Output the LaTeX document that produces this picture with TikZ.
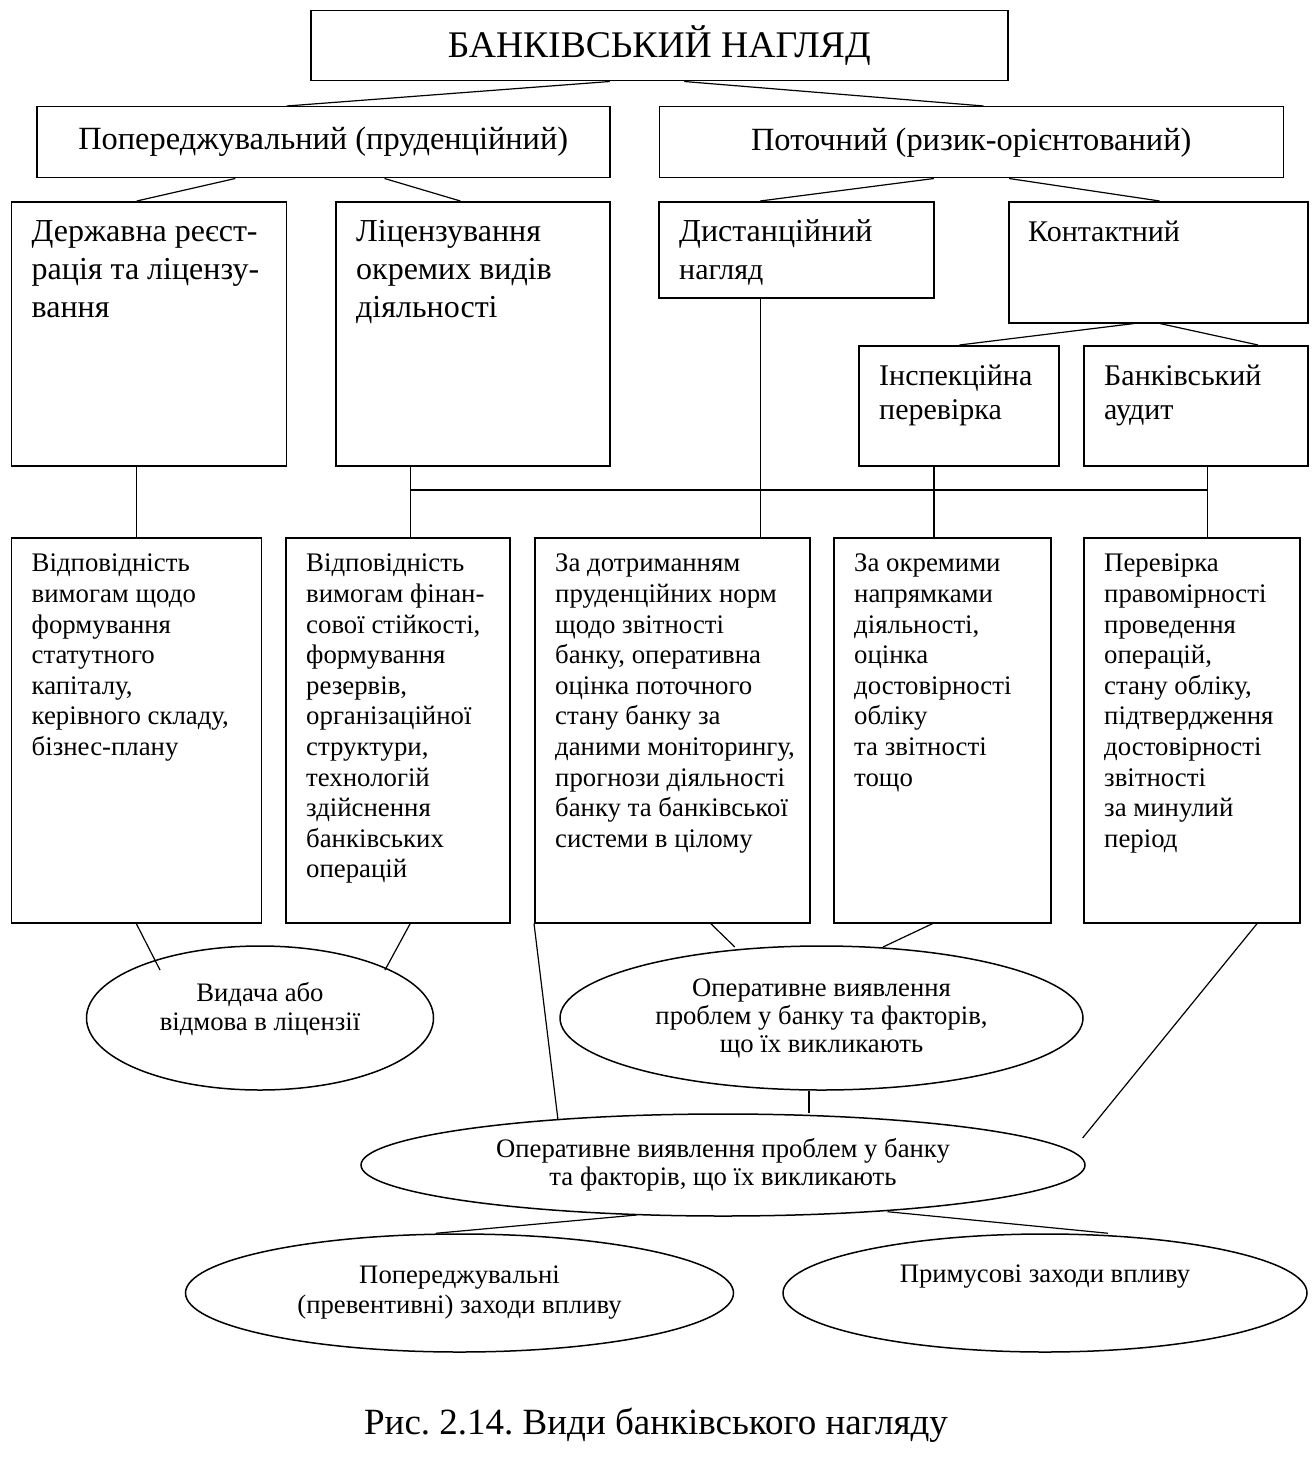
\documentclass[tikz,border=0pt]{standalone}
\usepackage{fontspec}
\setmainfont{Liberation Serif}
\usetikzlibrary{shapes.geometric,positioning}
\frenchspacing

\newcommand{\fsz}[2]{\fontsize{#1}{#2}\selectfont}

\begin{document}
\begin{tikzpicture}
  [x=1pt,y=-1pt,
   box/.style={draw,rectangle,line width=1.5pt,anchor=north west,inner sep=0pt},
   txt/.style={anchor=north west,inner sep=0pt,align=left},
   big/.style={txt,font=\fsz{32}{38}},
   mid/.style={txt,font=\fsz{30}{34}},
   small/.style={txt,font=\fsz{26.8}{30.6}},
   oval/.style={draw,ellipse,line width=1.5pt,inner sep=0pt,align=center,font=\fsz{26.7}{28}},
   ovaltext/.style={align=center,inner sep=0pt,font=\fsz{26.7}{29}},
   link/.style={line width=1.2pt}]
  \useasboundingbox (0,0) rectangle (1315,1474);

  % top levels
  \node[box,minimum width=697pt,minimum height=70pt,font=\fsz{37.6}{42}] (bank) at (310,10) {БАНКІВСЬКИЙ НАГЛЯД};
  \node[box,minimum width=573pt,minimum height=71pt,font=\fsz{32.4}{38}] (prud) at (36,106) {Попереджувальний (пруденційний)};
  \node[box,minimum width=624pt,minimum height=71pt,font=\fsz{32.4}{38}] (risk) at (658.5,106) {Поточний (ризик-орієнтований)};

  \node[box,minimum width=275pt,minimum height=264pt] (reg) at (10.5,201) {};
  \node[box,minimum width=274pt,minimum height=264pt] (lic) at (335,201) {};
  \node[box,minimum width=275pt,minimum height=96pt] (dist) at (658,201) {};
  \node[box,minimum width=299pt,minimum height=121pt] (cont) at (1008,201) {};
  \node[box,minimum width=200pt,minimum height=120pt] (insp) at (858,345) {};
  \node[box,minimum width=224pt,minimum height=120pt] (aud) at (1083,345) {};

  \node[big] (regT) at ([shift={(21,19)}]reg.north west) {Державна реєст-\\рація та ліцензу-\\вання};
  \node[big] (licT) at ([shift={(21,19)}]lic.north west) {Ліцензування\\окремих видів\\діяльності};
  \node[big] (distT) at ([shift={(21,18)}]dist.north west) {Дистанційний\\{\fsz{30}{34}нагляд}};
  \node[mid] (contT) at ([shift={(20,20)}]cont.north west) {Контактний};
  \node[mid] (inspT) at ([shift={(21,20)}]insp.north west) {Інспекційна\\перевірка};
  \node[mid] (audT) at ([shift={(21,20)}]aud.north west) {Банківський\\аудит};

  % requirements
  \node[box,minimum width=250pt,minimum height=385pt] (req1) at (10.5,537) {};
  \node[box,minimum width=224pt,minimum height=385pt] (req2) at (285,537) {};
  \node[box,minimum width=275pt,minimum height=385pt] (mon) at (534,537) {};
  \node[box,minimum width=217pt,minimum height=385pt] (dir) at (833,537) {};
  \node[box,minimum width=216pt,minimum height=385pt] (past) at (1083,537) {};

  \node[small] (req1T) at ([shift={(21,17)}]req1.north west) {Відповідність\\вимогам щодо\\формування\\статутного\\капіталу,\\керівного складу,\\бізнес-плану};
  \node[small] (req2T) at ([shift={(21,17)}]req2.north west) {Відповідність\\вимогам фінан-\\сової стійкості,\\формування\\резервів,\\організаційної\\структури,\\технологій\\здійснення\\банківських\\операцій};
  \node[small] (monT) at ([shift={(21,17)}]mon.north west) {За дотриманням\\пруденційних норм\\щодо звітності\\банку, оперативна\\оцінка поточного\\стану банку за\\даними моніторингу,\\прогнози діяльності\\банку та банківської\\системи в цілому};
  \node[small] (dirT) at ([shift={(21,17)}]dir.north west) {За окремими\\напрямками\\діяльності,\\оцінка\\достовірності\\обліку\\та звітності\\тощо};
  \node[small] (pastT) at ([shift={(21,17)}]past.north west) {Перевірка\\правомірності\\проведення\\операцій,\\стану обліку,\\підтвердження\\достовірності\\звітності\\за минулий\\період};

  % results
  \node[oval,minimum width=347pt,minimum height=144pt] (iss) at (260,1018) {};
  \node[ovaltext] (issT) at ([yshift=9pt]iss.center) {Видача або\\відмова в ліцензії};
  \node[oval,minimum width=523pt,minimum height=144pt] (ops) at (821.5,1018) {Оперативне виявлення\\проблем у банку та факторів,\\що їх викликають};
  \node[oval,minimum width=724pt,minimum height=102pt] (opw) at (723,1165) {Оперативне виявлення проблем у банку\\та факторів, що їх викликають};
  \node[oval,minimum width=548pt,minimum height=118pt,font=\fsz{26.7}{30}] (prev) at (459.5,1293) {Попереджувальні\\(превентивні) заходи впливу};
  \node[oval,minimum width=524pt,minimum height=118pt] (force) at (1045,1293) {};
  \node[ovaltext] (forceT) at ([yshift=16pt]force.center) {Примусові заходи впливу};

  \node[font=\fsz{37}{42}] (cap) at (656,1425) {Рис. 2.14. Види банківського нагляду};

  \coordinate (busL) at (409.5,490);
  \coordinate (busR) at (1207,490);

  \draw[link] ([xshift=-49.5pt]bank.south) -- ([xshift=-36.5pt]prud.north);
  \draw[link] ([xshift=25pt]bank.south) -- ([xshift=12.4pt]risk.north);
  \draw[link] ([xshift=-88pt]prud.south) -- ([xshift=-12pt]reg.north);
  \draw[link] ([xshift=61.3pt]prud.south) -- ([xshift=-12.4pt]lic.north);
  \draw[link] ([xshift=-37.3pt]risk.south) -- ([xshift=-36.1pt]dist.north);
  \draw[link] ([xshift=37.8pt]risk.south) -- ([xshift=1.4pt]cont.north);
  \draw[link] ([xshift=-24pt]cont.south) -- ([xshift=0.7pt]insp.north);
  \draw[link] ([xshift=1.5pt]cont.south) -- ([xshift=62.3pt]aud.north);

  \draw[link] ([xshift=-12pt]reg.south) -- ([xshift=-12pt]reg.south |- req1.north);
  \draw[link] ([xshift=-62.5pt]lic.south) -- ([xshift=-62.5pt]lic.south |- req2.north);
  \draw[link] ([xshift=-36.1pt]dist.south) -- ([xshift=-36.1pt]dist.south |- mon.north);
  \draw[link] ([xshift=-24.7pt]insp.south) -- ([xshift=-24.7pt]insp.south |- dir.north);
  \draw[link] ([xshift=11.8pt]aud.south) -- ([xshift=11.8pt]aud.south |- past.north);
  \draw[link] (busL) -- (busR);

  \draw[link] (req1.south) -- ([shift={(-100,-48)}]iss.center);
  \draw[link] ([xshift=12.5pt]req2.south) -- ([shift={(125,-48)}]iss.center);
  \draw[link] (mon.south west) -- ([shift={(-165,-45)}]opw.center);
  \draw[link] ([xshift=38.4pt]mon.south) -- ([shift={(-86.7,-71)}]ops.center);
  \draw[link] ([xshift=-9.5pt]dir.south) -- ([shift={(61.5,-71)}]ops.center);
  \draw[link] ([xshift=65.4pt]past.south) -- ([shift={(359.6,-27)}]opw.center);
  \draw[link] ([xshift=-12.5pt]ops.south) -- ([xshift=-12.5pt]ops.south |- opw.north);
  \draw[link] ([shift={(-86.4,50)}]opw.center) -- ([xshift=-23.5pt]prev.north);
  \draw[link] ([shift={(164.5,46.7)}]opw.center) -- ([xshift=63pt]force.north);
\end{tikzpicture}
\end{document}
